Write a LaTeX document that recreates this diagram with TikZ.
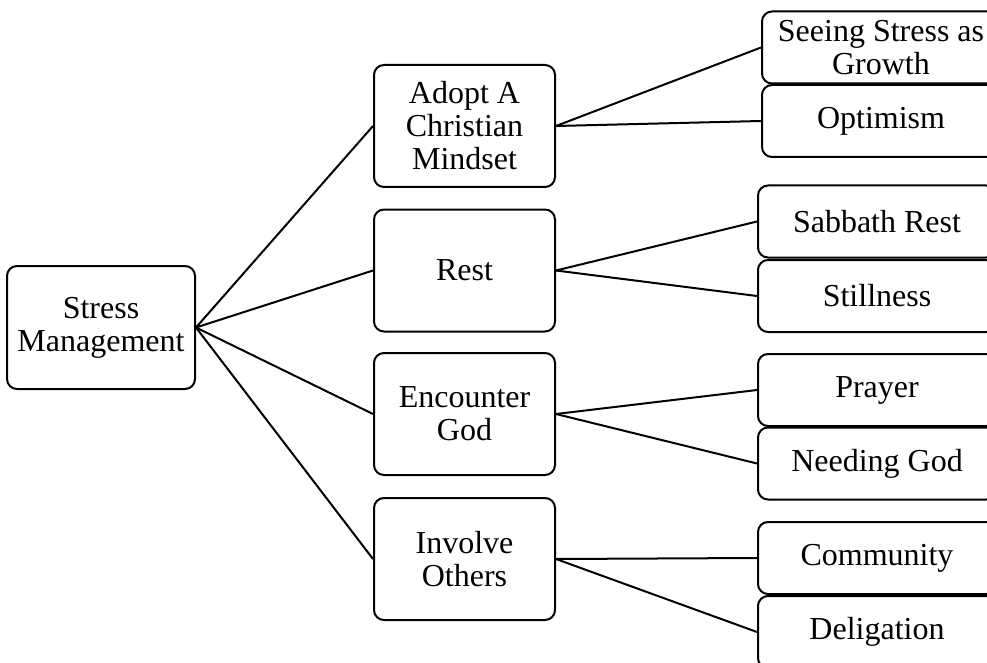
\documentclass[tikz,border=0pt]{standalone}
\usepackage{fontspec}
\setmainfont{Liberation Serif}
\usepackage{tikz}

\begin{document}
\begin{tikzpicture}[x=1pt, y=-1pt,
    caixa/.style={draw, line width=2pt, rounded corners=10pt, align=center,
      font=\fontsize{32}{33}\selectfont, inner sep=0pt},
    raiz/.style={caixa, minimum width=188pt, minimum height=123pt},
    meio/.style={caixa, minimum width=181pt, minimum height=122pt},
    folha/.style={caixa, minimum width=238pt, minimum height=72pt},
    liga/.style={line width=2pt}]
  \useasboundingbox (0,0) rectangle (987,663);

  % raiz
  \node[raiz] (stress) at (101,327.5) {Stress\\Management};

  % nivel 1
  \node[meio] (adopt)     at (464.5,126)   {Adopt A\\Christian\\Mindset};
  \node[meio] (rest)      at (464.5,270.5) {Rest};
  \node[meio] (encounter) at (464.5,414)   {Encounter\\God};
  \node[meio] (involve)   at (464.5,559)   {Involve\\Others};

  % nivel 2
  \node[folha] (seeing)    at (881,47.5)  {Seeing Stress as\\Growth};
  \node[folha] (optimism)  at (881,121)   {Optimism};
  \node[folha] (sabbath)   at (877,221.5) {Sabbath Rest};
  \node[folha] (stillness) at (877,296)   {Stillness};
  \node[folha] (prayer)    at (877,390)   {Prayer};
  \node[folha] (needing)   at (877,463.5) {Needing God};
  \node[folha] (community) at (877,558)   {Community};
  \node[folha] (delig)     at (877,632)   {Deligation};

  % ligacoes
  \foreach \m in {adopt,rest,encounter,involve}
    \draw[liga] (stress.east) -- (\m.west);
  \draw[liga] (adopt.east) -- (seeing.west);
  \draw[liga] (adopt.east) -- (optimism.west);
  \draw[liga] (rest.east) -- (sabbath.west);
  \draw[liga] (rest.east) -- (stillness.west);
  \draw[liga] (encounter.east) -- (prayer.west);
  \draw[liga] (encounter.east) -- (needing.west);
  \draw[liga] (involve.east) -- (community.west);
  \draw[liga] (involve.east) -- (delig.west);
\end{tikzpicture}
\end{document}
